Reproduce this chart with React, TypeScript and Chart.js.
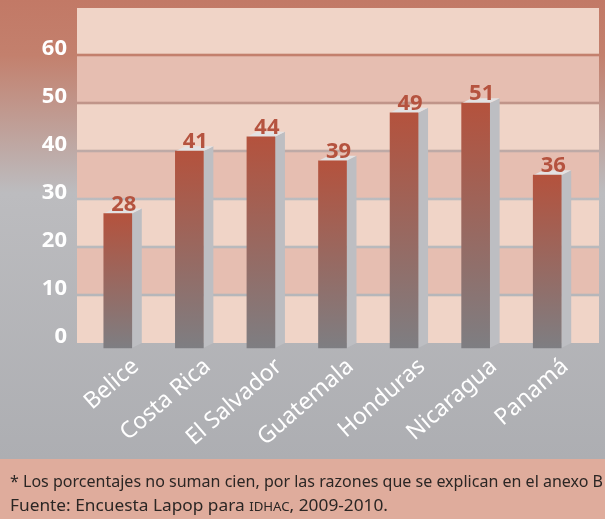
import React, { useEffect, useRef } from 'react';
import { Chart, registerables } from 'chart.js';

Chart.register(...registerables);

const countries = ['Belice', 'Costa Rica', 'El Salvador', 'Guatemala', 'Honduras', 'Nicaragua', 'Panamá'];
const values = [28, 41, 44, 39, 49, 51, 36];
const yMax = 70;
const yStep = 10;
const footnote = '* Los porcentajes no suman cien, por las razones que se explican en el anexo B';
const sourcePrefix = 'Fuente: Encuesta Lapop para ';
const sourceAcronym = 'IDHAC';
const sourceSuffix = ', 2009-2010.';

const W = 605;
const H = 519;
const DEPTH_X = 10;
const DEPTH_Y = 5;
const FOOTER_TOP = 459;

const scenePlugin = {
  id: 'scene3d',
  beforeDraw(chart: any) {
    const { ctx, chartArea: a } = chart;
    const ys = chart.scales.y;
    ctx.save();
    const g = ctx.createLinearGradient(0, 0, 0, FOOTER_TOP);
    g.addColorStop(0, '#c27966');
    g.addColorStop(0.12, '#c3806d');
    g.addColorStop(0.42, '#bcbcbf');
    g.addColorStop(1, '#adaeb2');
    ctx.fillStyle = g;
    ctx.fillRect(0, 0, W, H);
    const left = a.left - 15;
    const right = a.right + 6;
    for (let v = 0; v < yMax; v += yStep) {
      const top = v + yStep >= yMax ? a.top + 1 : ys.getPixelForValue(v + yStep) + 1.3;
      const bot = v === 0 ? a.bottom : ys.getPixelForValue(v) - 1.3;
      ctx.fillStyle = (v / yStep) % 2 === 0 ? '#f0d4c7' : '#e6beb1';
      ctx.fillRect(left, top, right - left, bot - top);
    }
    ctx.restore();
  },
  beforeDatasetsDraw(chart: any) {
    const ctx = chart.ctx;
    const meta = chart.getDatasetMeta(0);
    ctx.save();
    meta.data.forEach((bar: any) => {
      const { x, y, base, width } = bar.getProps(['x', 'y', 'base', 'width'], true);
      const bl = x - width / 2;
      const br = x + width / 2;
      const fl = bl - DEPTH_X;
      const fr = br - DEPTH_X;
      ctx.fillStyle = '#bdbec2';
      ctx.beginPath();
      ctx.moveTo(fr, y + DEPTH_Y);
      ctx.lineTo(br, y);
      ctx.lineTo(br, base);
      ctx.lineTo(fr, base + DEPTH_Y);
      ctx.closePath();
      ctx.fill();
      ctx.fillStyle = '#e3e2e3';
      ctx.beginPath();
      ctx.moveTo(fl, y + DEPTH_Y);
      ctx.lineTo(bl, y);
      ctx.lineTo(br, y);
      ctx.lineTo(fr, y + DEPTH_Y);
      ctx.closePath();
      ctx.fill();
    });
    ctx.restore();
    ctx.save();
    ctx.translate(-DEPTH_X, DEPTH_Y);
  },
  afterDatasetsDraw(chart: any) {
    const ctx = chart.ctx;
    ctx.restore();
    const meta = chart.getDatasetMeta(0);
    ctx.save();
    ctx.font = 'bold 22px "Noto Sans"';
    ctx.fillStyle = '#b5533f';
    ctx.textAlign = 'center';
    ctx.textBaseline = 'alphabetic';
    meta.data.forEach((bar: any, i: number) => {
      const { x, y } = bar.getProps(['x', 'y'], true);
      ctx.fillText(String(values[i]), x - 4, y + 2);
    });
    ctx.restore();
  },
  afterDraw(chart: any) {
    const ctx = chart.ctx;
    ctx.save();
    ctx.fillStyle = '#dfac9c';
    ctx.fillRect(0, FOOTER_TOP, W, H - FOOTER_TOP);
    ctx.fillStyle = '#2b2624';
    ctx.textBaseline = 'alphabetic';
    ctx.textAlign = 'left';
    const mainFont = '17px "Noto Sans"';
    const smallFont = '13px "Noto Sans"';
    ctx.font = mainFont;
    const w1 = ctx.measureText(footnote).width;
    const sx = 593 / w1;
    ctx.save();
    ctx.translate(10, 486.5);
    ctx.scale(sx, 1);
    ctx.fillText(footnote, 0, 0);
    ctx.restore();

    ctx.font = mainFont;
    let w2 = ctx.measureText(sourcePrefix).width + ctx.measureText(sourceSuffix).width;
    ctx.font = smallFont;
    w2 += ctx.measureText(sourceAcronym).width;
    const sx2 = 378 / w2;
    ctx.save();
    ctx.translate(10, 510.5);
    ctx.scale(sx2, 1);
    let cx = 0;
    ctx.font = mainFont;
    ctx.fillText(sourcePrefix, cx, 0);
    cx += ctx.measureText(sourcePrefix).width;
    ctx.font = smallFont;
    ctx.fillText(sourceAcronym, cx, 0);
    cx += ctx.measureText(sourceAcronym).width;
    ctx.font = mainFont;
    ctx.fillText(sourceSuffix, cx, 0);
    ctx.restore();
    ctx.restore();
  },
};

export default function App() {
  const ref = useRef<HTMLCanvasElement | null>(null);

  useEffect(() => {
    document.body.style.margin = '0';
    const canvas = ref.current;
    if (!canvas) return;
    const chart = new Chart(canvas, {
      type: 'bar',
      data: {
        labels: countries,
        datasets: [
          {
            data: values,
            barThickness: 28,
            clip: false as any,
            borderWidth: 0,
            backgroundColor: (c: any) => {
              const ch = c.chart;
              if (!ch.chartArea || c.type !== 'data') return '#b4523d';
              const ys = ch.scales.y;
              const top = ys.getPixelForValue(c.raw);
              const base = ys.getPixelForValue(0);
              const g = ch.ctx.createLinearGradient(0, top, 0, base);
              g.addColorStop(0, '#b4523d');
              g.addColorStop(1, '#7e7e82');
              return g;
            },
          },
        ],
      },
      options: {
        responsive: false,
        animation: false,
        events: [],
        layout: { padding: { top: 7, right: 12, left: 0, bottom: 0 } },
        plugins: { legend: { display: false }, tooltip: { enabled: false } },
        scales: {
          x: {
            grid: { display: false, drawTicks: false },
            border: { display: false },
            ticks: {
              color: '#ffffff',
              font: { family: '"Noto Sans"', size: 23 },
              minRotation: 41,
              maxRotation: 41,
              padding: 10,
              labelOffset: 8,
              autoSkip: false,
            },
            afterFit: (s: any) => {
              s.height = 176;
              s.paddingLeft = 0;
              s.paddingRight = 0;
            },
          },
          y: {
            min: 0,
            max: yMax,
            grid: { display: false, drawTicks: false },
            border: { display: false },
            ticks: {
              stepSize: yStep,
              color: '#ffffff',
              font: { family: '"Noto Sans"', size: 22, weight: 'bold' },
              padding: 25,
              labelOffset: -6,
              callback: (v: any) => (v >= yMax ? '' : String(v)),
            },
            afterFit: (s: any) => {
              s.width = 92;
              s.paddingTop = 0;
              s.paddingBottom = 0;
            },
          },
        },
      },
      plugins: [scenePlugin],
    });
    return () => chart.destroy();
  }, []);

  return <canvas ref={ref} width={W} height={H} style={{ display: 'block' }} />;
}
